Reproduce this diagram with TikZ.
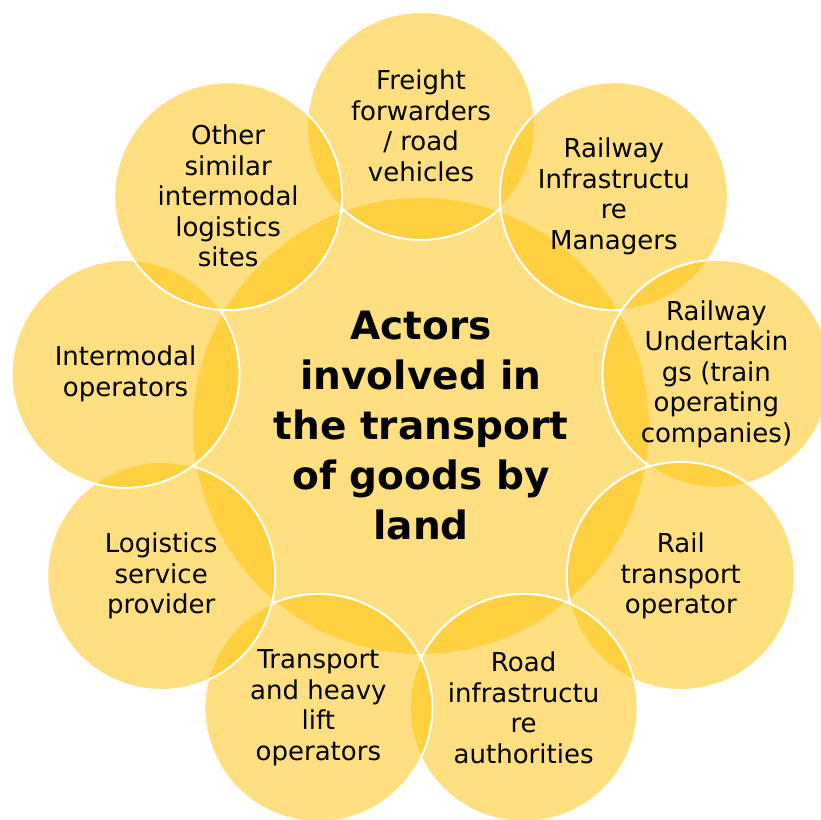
\documentclass[tikz,border=0pt]{standalone}
\usepackage{fontspec}
\setmainfont{DejaVu Sans}
\usepackage{xcolor}
\definecolor{actorgold}{HTML}{FFC000}
\tikzset{
  actor/.style={circle, minimum size=228pt, inner sep=0pt, fill=actorgold, fill opacity=0.5,
    text opacity=1, draw=white, line width=2pt, align=center, font=\fontsize{26}{30.5}\selectfont},
  hubactor/.style={actor, minimum size=458pt, font=\fontsize{39}{50}\selectfont\bfseries}
}

\begin{document}
\begin{tikzpicture}[x=1pt, y=1pt]
    \useasboundingbox (-421,-393) rectangle (400,426);
    \clip (-421,-393) rectangle (400,426);
    \node[hubactor] (hub) at (0,0) {Actors\\involved in\\the transport\\of goods by\\land};
    \node[actor] (freight) at (90:300) {Freight\\forwarders\\/ road\\vehicles};
    \node[actor] (infra) at (50:300) {Railway\\Infrastructu\\re\\Managers};
    \node[actor] (undertakings) at (10:300) {Railway\\Undertakin\\gs (train\\operating\\companies)};
    \node[actor] (railop) at (-30:300) {Rail\\transport\\operator};
    \node[actor] (roadauth) at (-70:300) {Road\\infrastructu\\re\\authorities};
    \node[actor] (heavylift) at (-110:300) {Transport\\and heavy\\lift\\operators};
    \node[actor] (logistics) at (-150:300) {Logistics\\service\\provider};
    \node[actor] (intermodal) at (170:300) {Intermodal\\operators};
    \node[actor] (othersites) at (130:300) {Other\\similar\\intermodal\\logistics\\sites};
\end{tikzpicture}
\end{document}
